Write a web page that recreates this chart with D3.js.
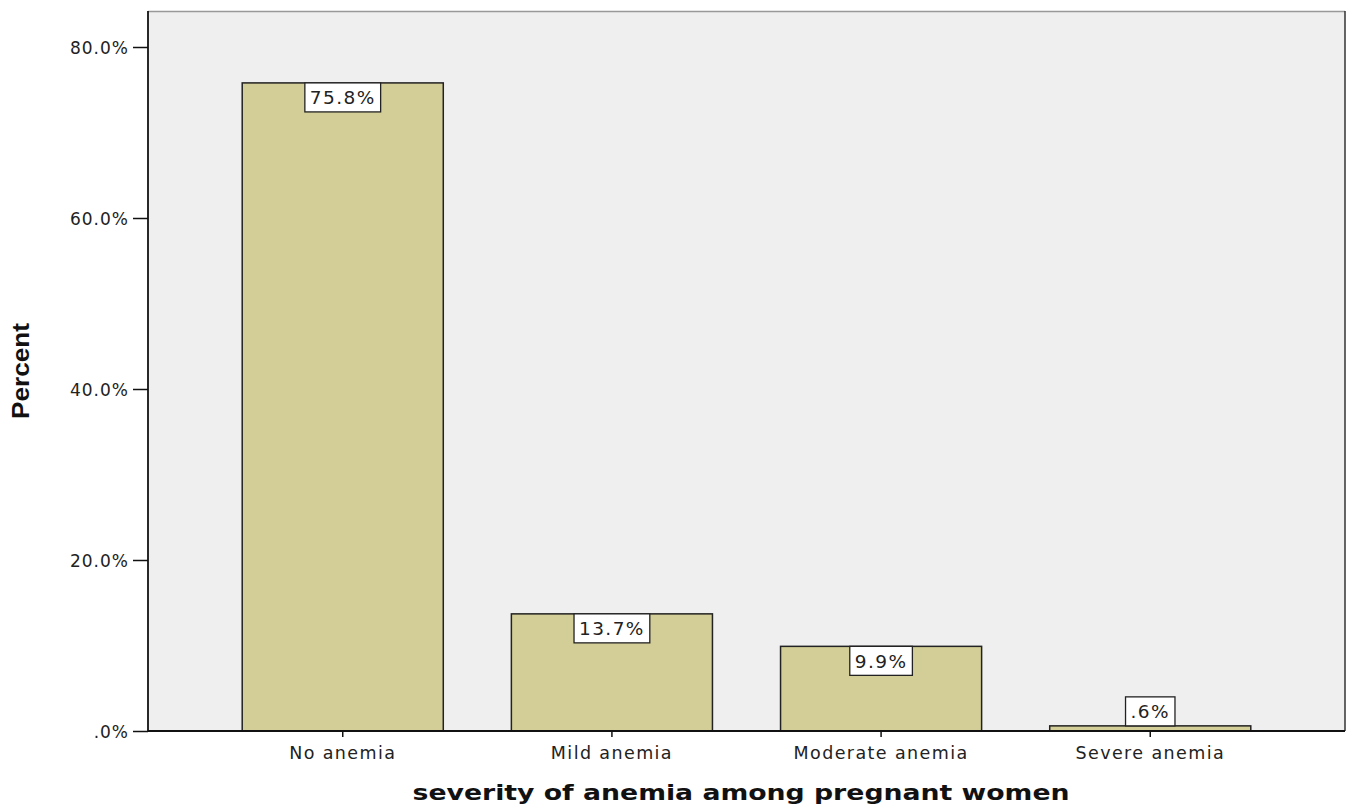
<!DOCTYPE html>
<html>
<head>
<meta charset="utf-8">
<script src="https://cdn.jsdelivr.net/npm/d3@7"></script>
<style>
  body { margin: 0; background: #fff; }
  svg text { font-family: "DejaVu Sans", "Liberation Sans", sans-serif; }
</style>
</head>
<body>
<svg id="chart" width="1352" height="807"></svg>
<script>
// categories and percent values
const categories = ["No anemia", "Mild anemia", "Moderate anemia", "Severe anemia"];
const percents = [75.8, 13.7, 9.9, 0.6];
const yTicks = [0, 20, 40, 60, 80];

const svg = d3.select("#chart");
const plotLeft = 148, plotRight = 1345, plotTop = 11, plotBottom = 731;

const x = d3.scaleBand()
    .domain(categories)
    .range([plotLeft, plotRight])
    .paddingInner(0.253)
    .paddingOuter(0.35);

const y = d3.scaleLinear()
    .domain([0, 80])
    .range([plotBottom, 47]);

// SPSS style: ".6%" for values under 1
const fmt = v => d3.format(".1f")(v).replace(/^0\./, ".") + "%";

// plot area
svg.append("rect")
    .attr("x", plotLeft).attr("y", plotTop)
    .attr("width", plotRight - plotLeft).attr("height", plotBottom - plotTop)
    .attr("fill", "#efefef");
svg.append("line").attr("x1", plotLeft).attr("x2", plotRight).attr("y1", plotTop + 0.5).attr("y2", plotTop + 0.5)
    .attr("stroke", "#999").attr("stroke-width", 1.5);
svg.append("line").attr("x1", plotRight).attr("x2", plotRight).attr("y1", plotTop).attr("y2", plotBottom)
    .attr("stroke", "#333").attr("stroke-width", 1.5);

// bars
svg.append("g").selectAll("rect")
    .data(categories)
    .join("rect")
    .attr("x", d => x(d))
    .attr("y", (d, i) => y(percents[i]))
    .attr("width", x.bandwidth())
    .attr("height", (d, i) => plotBottom - y(percents[i]))
    .attr("fill", "#d3ce97")
    .attr("stroke", "#222")
    .attr("stroke-width", 1.5);

// axes
const yAxis = svg.append("g")
    .attr("transform", `translate(${plotLeft},0)`)
    .call(d3.axisLeft(y).tickValues(yTicks).tickSize(15).tickFormat(fmt));
const xAxis = svg.append("g")
    .attr("transform", `translate(0,${plotBottom})`)
    .call(d3.axisBottom(x).tickSize(6).tickSizeOuter(0));

[yAxis, xAxis].forEach(g => {
    g.select(".domain").attr("stroke", "#111").attr("stroke-width", 1.8);
    g.selectAll(".tick line").attr("stroke", "#111").attr("stroke-width", 1.5);
    g.selectAll("text").attr("fill", "#222")
        .style("font-family", "'DejaVu Sans', sans-serif");
});
yAxis.select(".domain").attr("d", `M0,${plotTop}V${plotBottom}`);
xAxis.select(".domain").attr("d", `M${plotLeft},0H${plotRight}`);
yAxis.selectAll(".tick text").attr("x", -19).attr("dy", "0.36em")
    .style("font-size", "17px").style("letter-spacing", "1px");
xAxis.selectAll(".tick text").attr("y", 16)
    .style("font-size", "17.5px").style("letter-spacing", "1.4px");

// value labels in white boxes
const boxH = 29;
const labels = svg.append("g").selectAll("g")
    .data(categories)
    .join("g")
    .attr("transform", (d, i) => {
        const barTop = y(percents[i]);
        const yy = (plotBottom - barTop) > boxH + 2 ? barTop : barTop - boxH;
        return `translate(${x(d) + x.bandwidth() / 2},${yy})`;
    });
labels.append("text")
    .attr("text-anchor", "middle")
    .attr("y", boxH / 2)
    .attr("dy", "0.36em")
    .style("font-size", "18.5px")
    .style("letter-spacing", "1.4px")
    .attr("fill", "#222")
    .text((d, i) => fmt(percents[i]));
labels.each(function () {
    const g = d3.select(this);
    const bb = g.select("text").node().getBBox();
    g.insert("rect", "text")
        .attr("x", -bb.width / 2 - 5).attr("y", 0)
        .attr("width", bb.width + 10).attr("height", boxH)
        .attr("fill", "#fff")
        .attr("stroke", "#222")
        .attr("stroke-width", 1.3);
});

// axis titles
svg.append("text")
    .attr("x", 741)
    .attr("y", 800)
    .attr("text-anchor", "middle")
    .attr("textLength", 657)
    .attr("lengthAdjust", "spacingAndGlyphs")
    .style("font-size", "21px")
    .style("font-weight", "bold")
    .attr("fill", "#111")
    .text("severity of anemia among pregnant women");

svg.append("text")
    .attr("transform", "translate(29,371) rotate(-90)")
    .attr("text-anchor", "middle")
    .attr("textLength", 96)
    .attr("lengthAdjust", "spacingAndGlyphs")
    .style("font-size", "23px")
    .style("font-weight", "bold")
    .style("font-family", "'Liberation Sans', sans-serif")
    .attr("fill", "#111")
    .text("Percent");
</script>
</body>
</html>
